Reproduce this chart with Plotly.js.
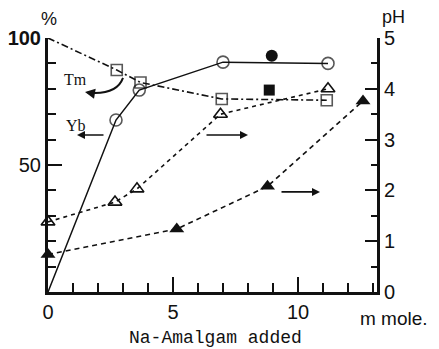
<!DOCTYPE html>
<html>
<head>
<meta charset="utf-8">
<script src="https://cdn.plot.ly/plotly-3.0.1.min.js"></script>
<style>
  html, body { margin: 0; padding: 0; background: #fff; }
  #chart { width: 439px; height: 349px; }
</style>
</head>
<body>
<div id="chart"></div>
<script>
// Na-amalgam added (m mole) vs. percentage remaining (left) and pH (right)

// Yb (%), open circles, solid line (starts at origin, no marker there)
const ybX = [0, 2.72, 3.65, 7.0, 11.2];
const ybPct = [0, 67.7, 79.5, 90.5, 90];

// Tm (%), open squares, dash-dot line (starts at 100 %, no marker there)
const tmX = [0, 2.75, 3.7, 6.95, 11.15];
const tmPct = [100, 87.4, 82.5, 76, 75.5];

// single filled points
const filledCircX = [8.95];
const filledCircPct = [93];
const filledSqX = [8.85];
const filledSqPct = [79.5];

// pH, open triangles
const phOpenX = [0, 2.68, 3.56, 6.9, 11.2];
const phOpen = [1.38, 1.77, 2.03, 3.5, 4.0];

// pH, filled triangles
const phFillX = [0, 5.15, 8.78, 12.6];
const phFill = [0.74, 1.24, 2.08, 3.76];

// axis tick labels
const pctTickVals = [50, 100];
const pctTickText = ['50', '<b>100</b>'];
const phTickVals = [0, 1, 2, 3, 4, 5];
const phTickText = ['0', '1', '2', '3', '4', '5'];
const xTickVals = [0, 5, 10];
const xTickText = ['0', '5', '10'];

const ink = '#111';
const sans = 'Liberation Sans, Arial, sans-serif';
const serif = 'Liberation Serif, Times New Roman, serif';

const traces = [
  {
    x: ybX, y: ybPct, yaxis: 'y', mode: 'lines+markers', cliponaxis: false,
    line: { color: ink, width: 1.5 },
    marker: { symbol: 'circle-open', size: ybX.map((v, i) => i === 0 ? 0 : 12), color: ink, line: { width: 1.6, color: ink } }
  },
  {
    x: tmX, y: tmPct, yaxis: 'y', mode: 'lines+markers', cliponaxis: false,
    line: { color: ink, width: 1.6, dash: '7px,3px,2px,3px' },
    marker: { symbol: 'square-open', size: tmX.map((v, i) => i === 0 ? 0 : 11), color: ink, line: { width: 1.6, color: ink } }
  },
  {
    x: filledCircX, y: filledCircPct, yaxis: 'y', mode: 'markers', cliponaxis: false,
    marker: { symbol: 'circle', size: 12, color: ink }
  },
  {
    x: filledSqX, y: filledSqPct, yaxis: 'y', mode: 'markers', cliponaxis: false,
    marker: { symbol: 'square', size: 11, color: ink }
  },
  {
    x: phOpenX, y: phOpen, yaxis: 'y2', mode: 'lines+markers', cliponaxis: false,
    line: { color: ink, width: 1.6, dash: '4px,4px' },
    marker: { symbol: 'triangle-up-open', size: 12, color: ink, line: { width: 1.6, color: ink } }
  },
  {
    x: phFillX, y: phFill, yaxis: 'y2', mode: 'lines+markers', cliponaxis: false,
    line: { color: ink, width: 1.6, dash: '5px,4px' },
    marker: { symbol: 'triangle-up', size: 13, color: ink }
  }
];

// straight arrows: [headX, headY, tailX, tailY] on the % scale
const arrows = [
  [1.16, 61.8, 2.28, 61.8],
  [8.0, 61.8, 6.28, 61.8],
  [10.88, 39.4, 9.28, 39.4]
];

const annotations = arrows.map(a => ({
  x: a[0], y: a[1], ax: a[2], ay: a[3], xref: 'x', yref: 'y', axref: 'x', ayref: 'y',
  text: '', showarrow: true, arrowhead: 2, arrowsize: 1, arrowwidth: 1.6, arrowcolor: ink
}));

// head of the curved Tm arrow
annotations.push({
  x: 1.48, y: 78.7, ax: 1.9, ay: 78.0, xref: 'x', yref: 'y', axref: 'x', ayref: 'y',
  text: '', showarrow: true, arrowhead: 2, arrowsize: 1, arrowwidth: 2, arrowcolor: ink
});

const label = (x, y, text, font, extra) => Object.assign({
  x: x, y: y, text: text, showarrow: false, xanchor: 'center', yanchor: 'middle', font: font
}, extra || {});

annotations.push(
  label(1.1, 83.5, 'Tm', { family: serif, size: 16, color: ink }, { xref: 'x', yref: 'y' }),
  label(1.1, 65.7, 'Yb', { family: serif, size: 16, color: ink }, { xref: 'x', yref: 'y' }),
  label(0, 1, '%', { family: sans, size: 18, color: ink }, { xref: 'paper', yref: 'paper', xshift: 1, yshift: 19 }),
  label(1, 1, 'pH', { family: sans, size: 18, color: ink }, { xref: 'paper', yref: 'paper', xshift: 16, yshift: 21 }),
  label(1, 0, 'm mole.', { family: sans, size: 19, color: ink }, { xref: 'paper', yref: 'paper', xshift: 17, yshift: -26 }),
  label(0.509, 0, 'Na-Amalgam added', { family: 'Liberation Mono, Courier New, monospace', size: 18, color: ink },
    { xref: 'paper', yref: 'paper', yshift: -46 })
);

const layout = {
  width: 439, height: 349,
  margin: { l: 48, r: 62, t: 38, b: 57 },
  paper_bgcolor: '#fff', plot_bgcolor: '#fff',
  showlegend: false,
  xaxis: {
    range: [0, 13.16], showgrid: false, zeroline: false,
    showline: true, linewidth: 3, linecolor: ink,
    tickmode: 'array', tickvals: xTickVals, ticktext: xTickText,
    ticks: 'inside', ticklen: 15, tickwidth: 2, tickcolor: ink,
    minor: { dtick: 1, ticks: 'inside', ticklen: 9, tickwidth: 2, tickcolor: ink, showgrid: false },
    tickfont: { family: sans, size: 20, color: ink }
  },
  yaxis: {
    range: [0, 100], showgrid: false, zeroline: false,
    showline: true, linewidth: 3, linecolor: ink,
    tickmode: 'array', tickvals: pctTickVals, ticktext: pctTickText,
    ticks: 'inside', ticklen: 14, tickwidth: 2, tickcolor: ink,
    minor: { dtick: 10, ticks: 'inside', ticklen: 8, tickwidth: 2, tickcolor: ink, showgrid: false },
    tickfont: { family: sans, size: 20, color: ink }
  },
  yaxis2: {
    range: [0, 5], overlaying: 'y', side: 'right', showgrid: false, zeroline: false,
    showline: true, linewidth: 3, linecolor: ink,
    tickmode: 'array', tickvals: phTickVals, ticktext: phTickText,
    ticks: 'inside', ticklen: 12, tickwidth: 2, tickcolor: ink,
    minor: { dtick: 0.5, ticks: 'inside', ticklen: 6, tickwidth: 2, tickcolor: ink, showgrid: false },
    tickfont: { family: sans, size: 20, color: ink }
  },
  shapes: [
    { type: 'path', xref: 'x', yref: 'y', path: 'M 3.0,84.3 Q 2.75,77.5 1.6,78.5',
      line: { color: ink, width: 2 } }
  ],
  annotations: annotations
};

Plotly.newPlot('chart', traces, layout, { displayModeBar: false, staticPlot: true });
</script>
</body>
</html>
